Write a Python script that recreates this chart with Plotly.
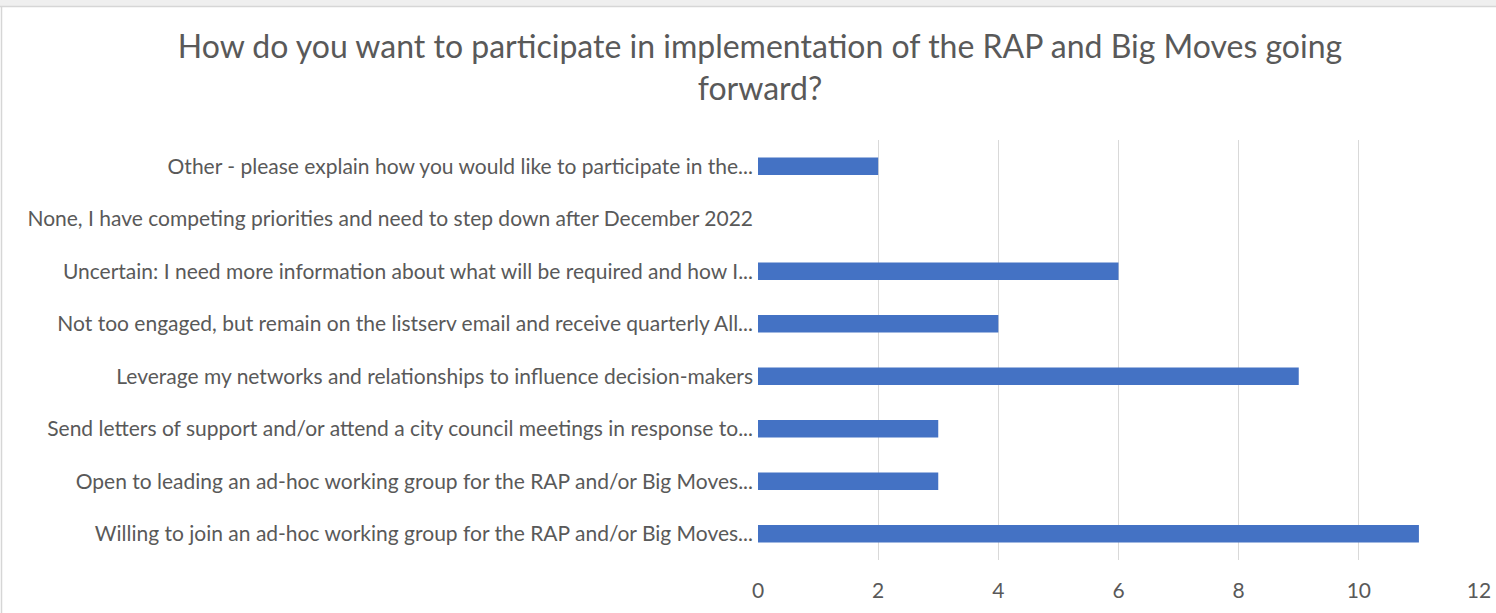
import plotly.graph_objects as go

categories = [
    "Willing to join an ad-hoc working group for the RAP and/or Big Moves...",
    "Open to leading an ad-hoc working group for the RAP and/or Big Moves...",
    "Send letters of support and/or attend a city council meetings in response to...",
    "Leverage my networks and relationships to influence decision-makers",
    "Not too engaged, but remain on the listserv email and receive quarterly All...",
    "Uncertain: I need more information about what will be required and how I...",
    "None, I have competing priorities and need to step down after December 2022",
    "Other - please explain how you would like to participate in the...",
]
values = [11, 3, 3, 9, 4, 6, 0, 2]
x_ticks = [0, 2, 4, 6, 8, 10, 12]

title_text = "How do you want to participate in implementation of the RAP and Big Moves going<br>forward?"

W, H = 1496, 613
L, R, T, B = 758, 17, 140, 53
PW, PH = W - L - R, H - T - B


def px(x):
    return (x - L) / PW


def py(y):
    return (H - B - y) / PH


fig = go.Figure(go.Bar(
    x=values, y=categories, orientation="h",
    marker=dict(color="#4472C4", line=dict(width=0)),
    width=0.33,
))

fig.update_layout(
    width=W, height=H,
    paper_bgcolor="white", plot_bgcolor="white",
    margin=dict(l=L, r=R, t=T, b=B),
    title=dict(text=title_text, x=760 / W, xanchor="center", xref="container",
               y=1 - 58 / H, yanchor="top", yref="container",
               font=dict(family="Lato", size=32, color="#595959")),
    showlegend=False,
    xaxis=dict(range=[0, 12], tickvals=x_ticks, showgrid=True, gridcolor="#d9d9d9",
               gridwidth=1, zeroline=False, showline=False, automargin=False,
               tickfont=dict(family="Lato", size=21, color="#595959"), ticklabelstandoff=16),
    yaxis=dict(categoryorder="array", categoryarray=categories, showgrid=False,
               showline=False, ticks="", ticklabelstandoff=4, automargin=False,
               tickfont=dict(family="Lato", size=21, color="#595959")),
    shapes=[
        dict(type="rect", xref="paper", yref="paper", x0=px(0), x1=px(W), y0=py(6), y1=py(0),
             fillcolor="#efefef", line=dict(width=0), layer="above"),
        dict(type="line", xref="paper", yref="paper", x0=px(0), x1=px(W), y0=py(6.5), y1=py(6.5),
             line=dict(color="#d6d6d6", width=1.5), layer="above"),
        dict(type="line", xref="paper", yref="paper", x0=px(1.5), x1=px(1.5), y0=py(H), y1=py(6.5),
             line=dict(color="#d6d6d6", width=1.5), layer="above"),
    ],
)

fig.write_html("out.html", config={"displayModeBar": False},
               post_script="document.body.style.margin='0';")
